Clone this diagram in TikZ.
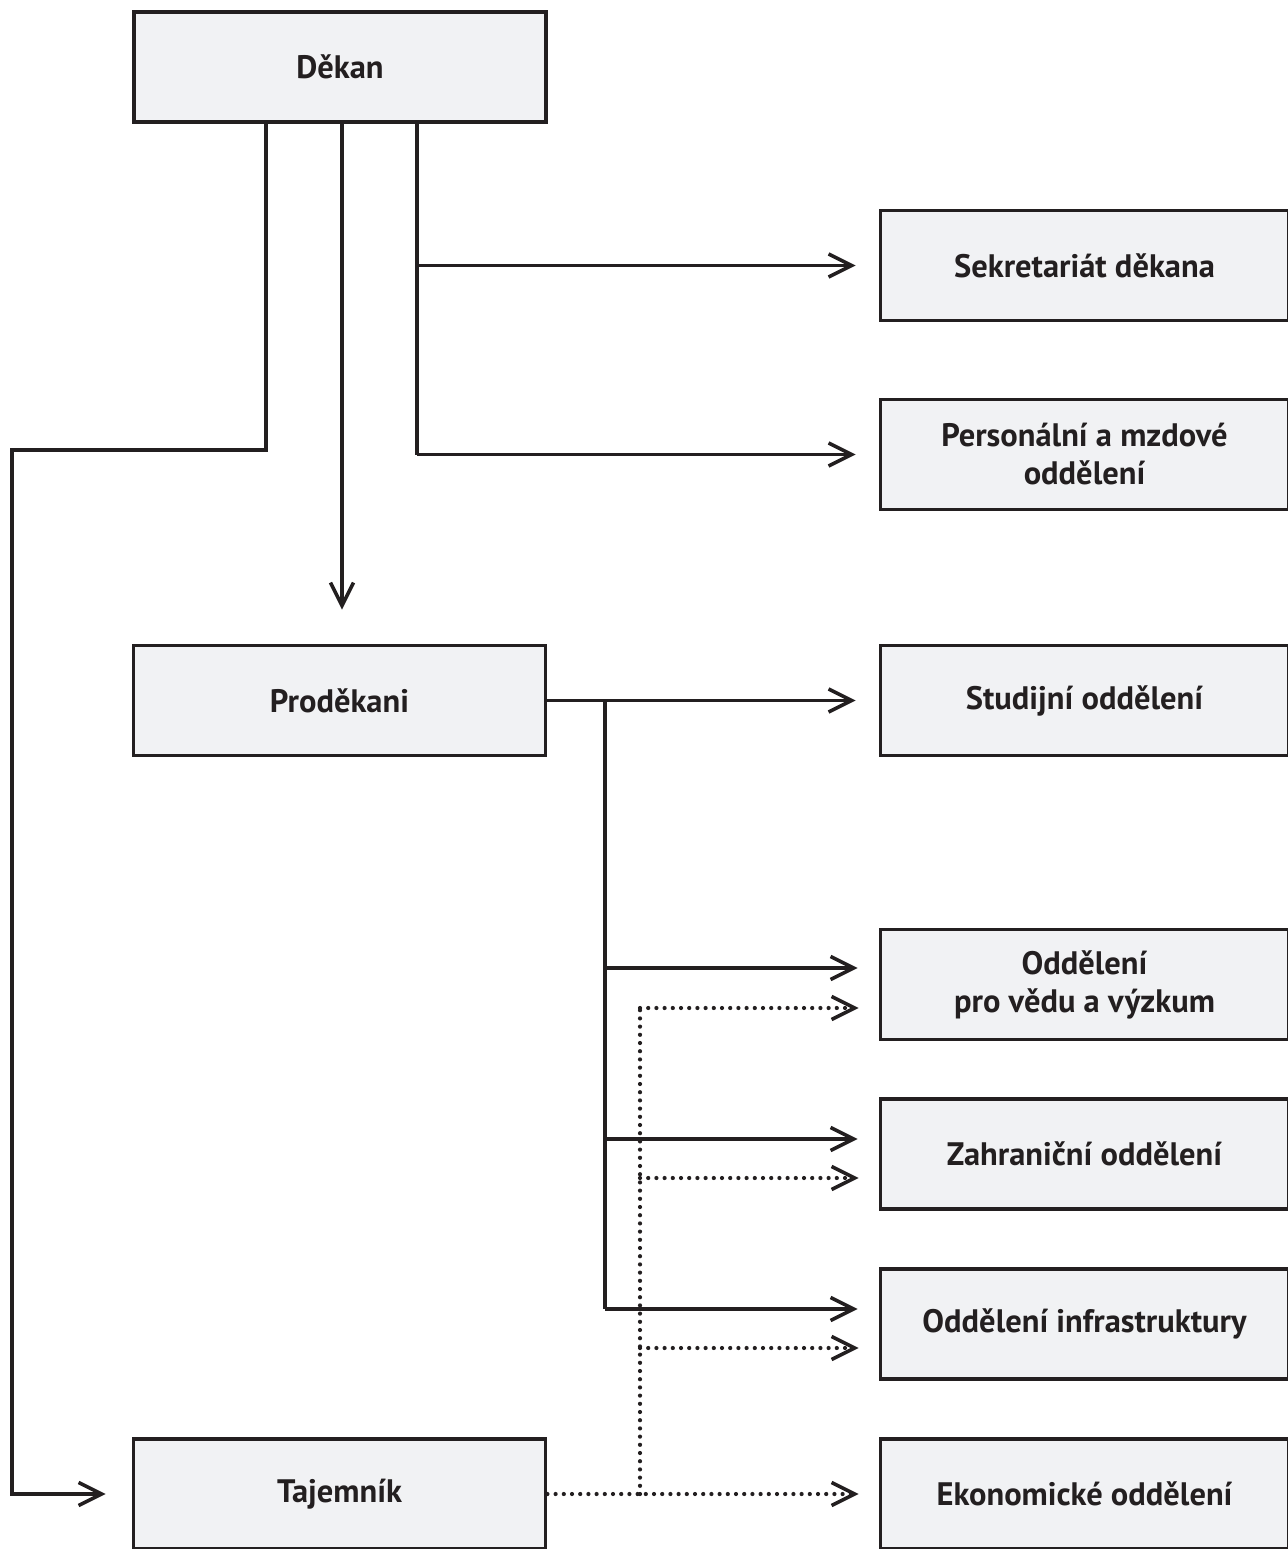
\documentclass[tikz,border=0pt]{standalone}
\usepackage{fontspec}
\setmainfont{PT Sans}
\usetikzlibrary{arrows.meta,calc}
\definecolor{boxfill}{HTML}{F1F2F4}
\definecolor{ink}{HTML}{231F20}
\begin{document}
\begin{tikzpicture}[x=1pt,y=-1pt,
  box/.style={draw=ink,fill=boxfill,line width=3.8pt,rectangle,inner sep=0pt,
    align=center,font=\fontsize{32.5}{38}\selectfont\bfseries,text=ink},
  lbox/.style={box,minimum width=412pt,minimum height=110pt},
  rbox/.style={box,minimum width=408pt,minimum height=110pt},
  conn/.style={draw=ink,line width=3.6pt},
  arr/.style={conn,-{Straight Barb[length=23pt,width=23pt,line width=3.6pt]}},
  dots/.style={draw=ink,line width=4.2pt,line cap=round,dash pattern=on 0pt off 8.2pt},
  darr/.style={dots,-{Straight Barb[length=23pt,width=23pt,line width=3.6pt,line cap=butt]}}
]
\useasboundingbox (0,0) rectangle (1287,1549);
\fill[white] (0,0) rectangle (1287,1549);

\node[lbox] (dekan) at (340,67) {Děkan};
\node[lbox] (prod) at (339.5,700.5) {Proděkani};
\node[lbox] (taj) at (339.5,1494) {Tajemník};
\node[rbox] (sek) at (1084.5,265.5) {Sekretariát děkana};
\node[rbox] (pers) at (1084.5,454.5) {Personální a mzdové\\ oddělení};
\node[rbox] (stud) at (1084.5,700.5) {Studijní oddělení};
\node[rbox] (veda) at (1084.5,984.5) {Oddělení\\pro vědu a výzkum};
\node[rbox] (zahr) at (1084.5,1154) {Zahraniční oddělení};
\node[rbox] (infra) at (1084.5,1324) {Oddělení infrastruktury};
\node[rbox] (eko) at (1084.5,1494) {Ekonomické oddělení};

\coordinate (xa) at (266,0);
\coordinate (xb) at (342,0);
\coordinate (xc) at (417,0);
\coordinate (xl) at (12,450);
\coordinate (xs) at (605,0);
\coordinate (xd) at (640,0);

% Dekan -> Tajemnik
\draw[arr,shorten >=26pt] (dekan.south -| xa) |- (xl) |- (taj.west);
% Dekan -> Prodekani
\draw[arr,shorten >=34pt] (dekan.south -| xb) -- (prod.north -| xb);
% Dekan -> Sekretariat, Personalni
\draw[conn] (dekan.south -| xc) -- (pers.west -| xc);
\draw[arr,shorten >=23pt] (sek.west -| xc) -- (sek.west);
\draw[arr,shorten >=23pt] (pers.west -| xc) -- (pers.west);
% Prodekani -> branches
\draw[arr,shorten >=23pt] (prod.east) -- (stud.west);
\coordinate (v1) at ($(veda.west)+(0,-16.5)$);
\coordinate (v2) at ($(veda.west)+(0,23.5)$);
\coordinate (z1) at ($(zahr.west)+(0,-15)$);
\coordinate (z2) at ($(zahr.west)+(0,24)$);
\coordinate (i1) at ($(infra.west)+(0,-15)$);
\coordinate (i2) at ($(infra.west)+(0,24)$);
\draw[conn] (prod.east -| xs) -- (i1 -| xs);
\draw[arr,shorten >=21pt] (v1 -| xs) -- (v1);
\draw[arr,shorten >=21pt] (z1 -| xs) -- (z1);
\draw[arr,shorten >=21pt] (i1 -| xs) -- (i1);
% Tajemnik dotted
\draw[darr,shorten >=20pt] (taj.east) -- (eko.west);
\draw[dots] (taj.east -| xd) -- (v2 -| xd);
\draw[darr,shorten >=20pt] (v2 -| xd) -- (v2);
\draw[darr,shorten >=20pt] (z2 -| xd) -- (z2);
\draw[darr,shorten >=20pt] (i2 -| xd) -- (i2);
\end{tikzpicture}
\end{document}
